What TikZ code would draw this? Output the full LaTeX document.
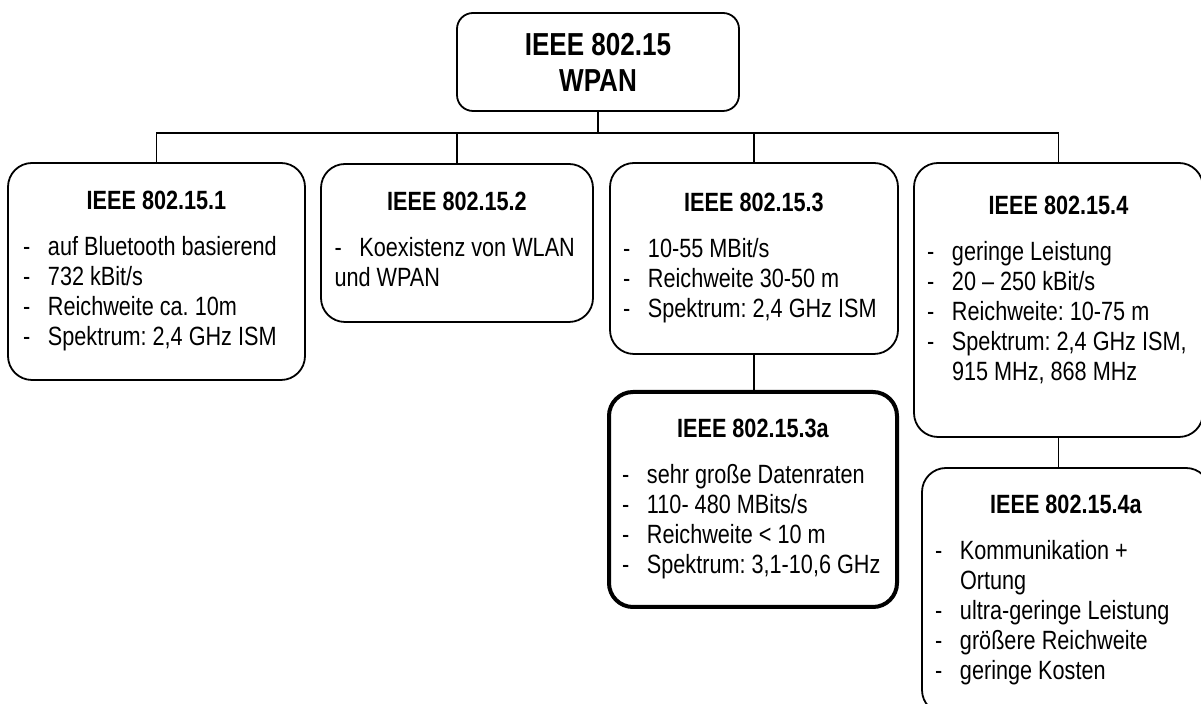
\documentclass[tikz,border=0pt]{standalone}
\usepackage{fontspec}
\setmainfont{Liberation Sans}[FakeStretch=0.82]
\usepackage{array}
\frenchspacing

\begin{document}
\begin{tikzpicture}[x=0.5pt,y=-0.5pt]
	\tikzstyle{part}=[rectangle, rounded corners=12pt, draw=black, line width=0.9pt, inner sep=0pt, font=\fontsize{13.2}{15}\selectfont]
	\tikzstyle{link}=[line width=0.75pt]
	\useasboundingbox (0,0) rectangle (1201,704);

	\node[part, rounded corners=8pt, minimum width=141pt, minimum height=49pt, align=center, font=\bfseries\fontsize{15.9}{18}\selectfont] (wpan) at (598,62) {IEEE 802.15\\WPAN};

	\node[part, minimum width=148.5pt, minimum height=108.5pt] (ieee1) at (156.5,271.5) {
		\begin{tabular}{@{}p{12.5pt}@{}p{121pt}@{}}
			\multicolumn{2}{@{}c@{}}{\textbf{IEEE 802.15.1}} \\[8pt]
			- & auf Bluetooth basierend \\
			- & 732 kBit/s \\
			- & Reichweite ca. 10m \\
			- & Spektrum: 2,4 GHz ISM \\
		\end{tabular}
	};

	\node[part, minimum width=136pt, minimum height=79pt] (ieee2) at (457,243) {
		\begin{tabular}{@{}p{12.5pt}@{}p{110pt}@{}}
			\multicolumn{2}{@{}c@{}}{\textbf{IEEE 802.15.2}} \\[8pt]
			- & Koexistenz von WLAN \\
			\multicolumn{2}{@{}l@{}}{und WPAN} \\
		\end{tabular}
	};

	\node[part, minimum width=144pt, minimum height=95.5pt] (ieee3) at (754,258.5) {
		\begin{tabular}{@{}p{12.5pt}@{}p{118.5pt}@{}}
			\multicolumn{2}{@{}c@{}}{\textbf{IEEE 802.15.3}} \\[8pt]
			- & 10-55 MBit/s \\
			- & Reichweite 30-50 m \\
			- & Spektrum: 2,4 GHz ISM \\
		\end{tabular}
	};

	\node[part, line width=2pt, minimum width=144pt, minimum height=107.5pt] (ieee3a) at (753,499.5) {
		\begin{tabular}{@{}p{12.5pt}@{}p{118.5pt}@{}}
			\multicolumn{2}{@{}c@{}}{\textbf{IEEE 802.15.3a}} \\[8pt]
			- & sehr große Datenraten \\
			- & 110- 480 MBits/s \\
			- & Reichweite < 10 m \\
			- & Spektrum: 3,1-10,6 GHz \\
		\end{tabular}
	};

	\node[part, minimum width=144.5pt, minimum height=137pt] (ieee4) at (1058.5,300) {
		\begin{tabular}{@{}p{12.5pt}@{}p{119pt}@{}}
			\multicolumn{2}{@{}c@{}}{\textbf{IEEE 802.15.4}} \\[8pt]
			- & geringe Leistung \\
			- & 20 – 250 kBit/s \\
			- & Reichweite: 10-75 m \\
			- & Spektrum: 2,4 GHz ISM, \\
			  & 915 MHz, 868 MHz \\[8.5pt]
		\end{tabular}
	};

	\node[part, minimum width=144pt, minimum height=123pt] (ieee4a) at (1066,591) {
		\begin{tabular}{@{}p{12.5pt}@{}p{118.5pt}@{}}
			\multicolumn{2}{@{}c@{}}{\textbf{IEEE 802.15.4a}} \\[8pt]
			- & Kommunikation + \\
			  & Ortung \\
			- & ultra-geringe Leistung \\
			- & größere Reichweite \\
			- & geringe Kosten \\
		\end{tabular}
	};

	\coordinate (bus) at (598,133);
	\draw[link] (wpan.south) -- (bus);
	\draw[link] (ieee1.north) |- (bus) -| (ieee4.north);
	\draw[link] (ieee2.north) -- (ieee2.north |- bus);
	\draw[link] (ieee3.north) -- (ieee3.north |- bus);
	\draw[link] (ieee3.south) -- (ieee3.south |- ieee3a.north);
	\draw[link] (ieee4.south) -- (ieee4.south |- ieee4a.north);

\end{tikzpicture}
\end{document}
